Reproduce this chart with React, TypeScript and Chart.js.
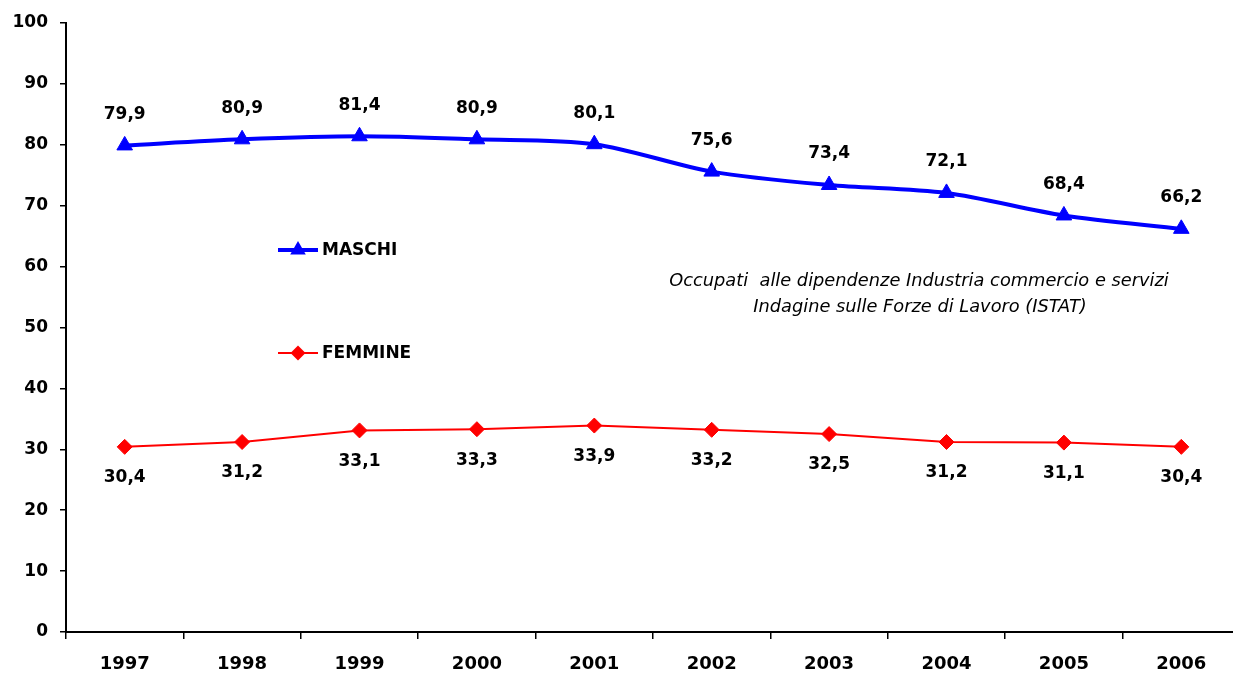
import React, { useEffect, useRef } from "react";
import { Chart, registerables } from "chart.js";

Chart.register(...registerables);

const years = ["1997", "1998", "1999", "2000", "2001", "2002", "2003", "2004", "2005", "2006"];
const maschi = [79.9, 80.9, 81.4, 80.9, 80.1, 75.6, 73.4, 72.1, 68.4, 66.2];
const femmine = [30.4, 31.2, 33.1, 33.3, 33.9, 33.2, 32.5, 31.2, 31.1, 30.4];
const noteLines = [
  "Occupati  alle dipendenze Industria commercio e servizi",
  "Indagine sulle Forze di Lavoro (ISTAT)",
];

const BLUE = "#0000FF";
const RED = "#FF0000";
const FONT = "'DejaVu Sans', sans-serif";

const fmt = (v: number) => v.toFixed(1).replace(".", ",");

function drawMarker(ctx: CanvasRenderingContext2D, style: string, r: number, x: number, y: number, color: string) {
  ctx.fillStyle = color;
  ctx.beginPath();
  if (style === "triangle") {
    const h = r * 1.5;
    const w = r * Math.sqrt(3);
    ctx.moveTo(x, y - r);
    ctx.lineTo(x + w / 2, y - r + h);
    ctx.lineTo(x - w / 2, y - r + h);
  } else {
    ctx.moveTo(x - r, y);
    ctx.lineTo(x, y - r);
    ctx.lineTo(x + r, y);
    ctx.lineTo(x, y + r);
  }
  ctx.closePath();
  ctx.fill();
}

const overlayPlugin = {
  id: "overlay",
  afterDatasetsDraw(chart: any) {
    const ctx = chart.ctx as CanvasRenderingContext2D;
    ctx.save();
    ctx.fillStyle = "#000";
    ctx.textAlign = "center";
    ctx.textBaseline = "middle";
    ctx.font = `bold 17px ${FONT}`;
    chart.data.datasets.forEach((ds: any, i: number) => {
      const meta = chart.getDatasetMeta(i);
      const off = i === 0 ? -31 : 31;
      meta.data.forEach((pt: any, j: number) => {
        ctx.fillText(fmt(ds.data[j]), pt.x, pt.y + off);
      });
    });

    // legend
    const items = [
      { label: "MASCHI", color: BLUE, width: 4, style: "triangle", r: 9, y: 250 },
      { label: "FEMMINE", color: RED, width: 2, style: "rectRot", r: 7.5, y: 353 },
    ];
    items.forEach((it) => {
      ctx.strokeStyle = it.color;
      ctx.lineWidth = it.width;
      ctx.beginPath();
      ctx.moveTo(278, it.y);
      ctx.lineTo(318, it.y);
      ctx.stroke();
      drawMarker(ctx, it.style, it.r, 298, it.y, it.color);
      ctx.fillStyle = "#000";
      ctx.textAlign = "left";
      ctx.font = `bold 17px ${FONT}`;
      ctx.fillText(it.label, 322, it.y + 1);
    });

    // note
    ctx.font = `italic 17.8px ${FONT}`;
    ctx.textAlign = "center";
    ctx.fillStyle = "#000";
    ctx.fillText(noteLines[0], 919, 281);
    ctx.fillText(noteLines[1], 920, 307);
    ctx.restore();
  },
};

export default function App() {
  const ref = useRef<HTMLCanvasElement>(null);
  useEffect(() => {
    if (!ref.current) return;
    const chart = new Chart(ref.current, {
      type: "line",
      data: {
        labels: years,
        datasets: [
          {
            label: "MASCHI",
            data: maschi,
            borderColor: BLUE,
            backgroundColor: BLUE,
            borderWidth: 4,
            tension: 0.3,
            pointStyle: "triangle",
            pointRadius: 9,
            pointBorderWidth: 1,
          },
          {
            label: "FEMMINE",
            data: femmine,
            borderColor: RED,
            backgroundColor: RED,
            borderWidth: 2,
            tension: 0,
            pointStyle: "rectRot",
            pointRadius: 7.5,
            pointBorderWidth: 1,
          },
        ],
      },
      options: {
        responsive: false,
        animation: false,
        devicePixelRatio: 1,
        layout: { padding: { top: 23, right: 1, left: 0, bottom: 0 } },
        plugins: { legend: { display: false }, tooltip: { enabled: false } },
        scales: {
          x: {
            offset: true,
            grid: {
              display: true,
              drawOnChartArea: false,
              drawTicks: true,
              tickLength: 7,
              color: "#000",
              lineWidth: 1.5,
              offset: true,
            },
            border: { display: true, color: "#000", width: 2 },
            ticks: { color: "#000", font: { family: FONT, size: 18, weight: "bold" }, padding: 15, maxRotation: 0 },
            afterFit: (s: any) => {
              s.height = 43;
            },
          },
          y: {
            min: 0,
            max: 100,
            ticks: { stepSize: 10, color: "#000", font: { family: FONT, size: 17, weight: "bold" }, padding: 12 },
            grid: { display: true, drawOnChartArea: false, drawTicks: true, tickLength: 6, color: "#000", lineWidth: 1.5 },
            border: { display: true, color: "#000", width: 2 },
            afterFit: (s: any) => {
              s.width = 66;
            },
          },
        },
      },
      plugins: [overlayPlugin],
    } as any);
    return () => chart.destroy();
  }, []);
  return (
    <div style={{ position: "fixed", left: 0, top: 0, right: 0, bottom: 0, overflow: "hidden", background: "#fff" }}>
      <canvas ref={ref} width={1250} height={675} style={{ display: "block", width: 1250, height: 675 }} />
    </div>
  );
}
